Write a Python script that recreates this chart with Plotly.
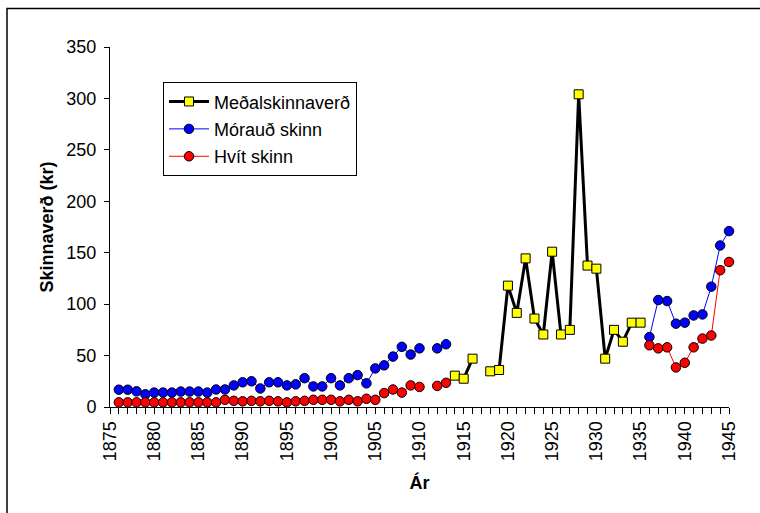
import plotly.graph_objects as go

# Years covered by the series (1876-1945); None marks years without a price
years = list(range(1876, 1946))

# Meðalskinnaverð (average skin price), 1914-1935
medal = {
    1914: 30.5, 1915: 27.5, 1916: 47, 1918: 34.7, 1919: 36,
    1920: 118, 1921: 91.5, 1922: 144.5, 1923: 86, 1924: 70.5,
    1925: 151, 1926: 70.5, 1927: 75, 1928: 304, 1929: 137.5,
    1930: 134.5, 1931: 47, 1932: 75, 1933: 63.5, 1934: 82, 1935: 82,
}

# Mórauð skinn (brown skins)
morauð = {
    1876: 16.8, 1877: 16.8, 1878: 15.2, 1879: 12.3, 1880: 14, 1881: 14,
    1882: 14, 1883: 15, 1884: 15, 1885: 15, 1886: 14, 1887: 17, 1888: 17,
    1889: 21, 1890: 24, 1891: 25, 1892: 18, 1893: 24, 1894: 24, 1895: 21,
    1896: 22, 1897: 28, 1898: 20, 1899: 20, 1900: 28, 1901: 21, 1902: 28,
    1903: 31, 1904: 23, 1905: 37.5, 1906: 40.5, 1907: 49, 1908: 58.5,
    1909: 51, 1910: 57, 1912: 57, 1913: 61,
    1936: 68, 1937: 104, 1938: 103, 1939: 81, 1940: 82, 1941: 89,
    1942: 90, 1943: 117, 1944: 157, 1945: 171,
}

# Hvít skinn (white skins)
hvit = {
    1876: 4.5, 1877: 4.5, 1878: 4.5, 1879: 4.5, 1880: 4.5, 1881: 4.5,
    1882: 4.5, 1883: 4.5, 1884: 4.5, 1885: 4.5, 1886: 4.5, 1887: 4.5,
    1888: 7, 1889: 6, 1890: 5.5, 1891: 6, 1892: 5.5, 1893: 6, 1894: 5.5,
    1895: 4.5, 1896: 5.5, 1897: 6, 1898: 7, 1899: 7, 1900: 7, 1901: 5.5,
    1902: 7, 1903: 5.5, 1904: 8, 1905: 7, 1906: 13.5, 1907: 17, 1908: 14,
    1909: 21, 1910: 19.5, 1912: 20.5, 1913: 23.5,
    1936: 60, 1937: 57, 1938: 58, 1939: 38.5, 1940: 43, 1941: 58,
    1942: 66.5, 1943: 69.5, 1944: 133, 1945: 141,
}

y_medal = [medal.get(y) for y in years]
y_morauð = [morauð.get(y) for y in years]
y_hvit = [hvit.get(y) for y in years]

FONT = "Liberation Sans, Arial, sans-serif"

fig = go.Figure()
fig.add_trace(go.Scatter(
    x=years, y=y_medal, name="Meðalskinnaverð", mode="lines+markers",
    line=dict(color="black", width=3),
    marker=dict(symbol="square", size=9, color="#FFFF00",
                line=dict(color="black", width=1)),
    connectgaps=False, cliponaxis=False, legendgroup="a",
))
fig.add_trace(go.Scatter(
    x=years, y=y_morauð, name="Mórauð skinn", mode="lines+markers",
    line=dict(color="#0000FF", width=1),
    marker=dict(symbol="circle", size=9.5, color="#0000FF",
                line=dict(color="black", width=1)),
    connectgaps=False, cliponaxis=False, legendgroup="b",
))
fig.add_trace(go.Scatter(
    x=years, y=y_hvit, name="Hvít skinn", mode="lines+markers",
    line=dict(color="#FF0000", width=1),
    marker=dict(symbol="circle", size=9.5, color="#FF0000",
                line=dict(color="black", width=1)),
    connectgaps=False, cliponaxis=False, legendgroup="c",
))

fig.update_layout(
    width=760, height=513,
    margin=dict(l=110, r=31, t=47, b=106),
    paper_bgcolor="white", plot_bgcolor="white",
    font=dict(family=FONT, size=18, color="black"),
    showlegend=True,
    legend=dict(
        x=0.0856, y=0.902, xanchor="left", yanchor="top",
        bgcolor="white", bordercolor="black", borderwidth=1,
        font=dict(size=18), tracegroupgap=1, traceorder="grouped",
        itemwidth=40,
    ),
    xaxis=dict(
        range=[1875, 1945], tick0=1875, dtick=5, tickangle=-90,
        showline=True, linecolor="black", linewidth=1,
        ticks="outside", ticklen=6, tickcolor="black", tickwidth=1,
        minor=dict(dtick=1, ticks="outside", ticklen=6,
                   tickcolor="black", tickwidth=1),
        showgrid=False, zeroline=False,
        title=dict(text="<b>Ár</b>", font=dict(size=18), standoff=16),
    ),
    yaxis=dict(
        range=[0, 350], dtick=50,
        showline=True, linecolor="black", linewidth=1,
        ticks="outside", ticklen=5, tickcolor="black", tickwidth=1,
        ticklabelstandoff=4,
        showgrid=False, zeroline=False,
        title=dict(text="<b>Skinnaverð (kr)</b>", font=dict(size=18), standoff=8),
    ),
    shapes=[dict(
        type="rect", xref="paper", yref="paper",
        x0=(7 - 110) / 619, x1=1.2, y0=-0.5, y1=1 + (47.5 - 9) / 359.5,
        line=dict(color="black", width=1.5), fillcolor="rgba(0,0,0,0)",
        layer="below",
    )],
)

fig.write_html("out.html")
